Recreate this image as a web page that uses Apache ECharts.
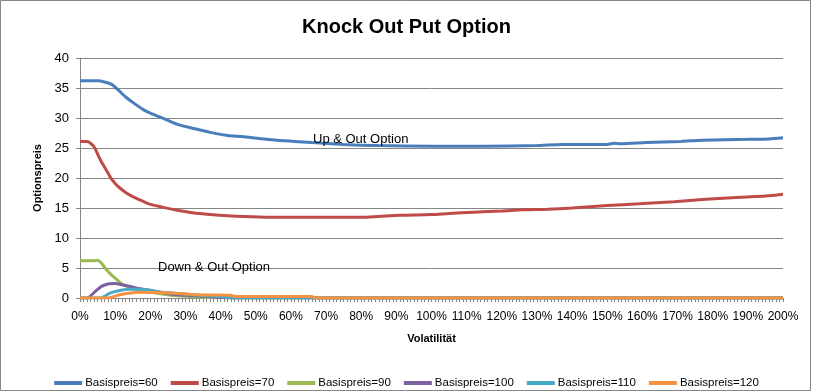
<!DOCTYPE html>
<html>
<head>
<meta charset="utf-8">
<script src="https://cdn.jsdelivr.net/npm/echarts@6/dist/echarts.min.js"></script>
<style>
html,body{margin:0;padding:0;background:#fff;}
#chart{width:813px;height:392px;}
</style>
</head>
<body>
<div id="chart"></div>
<script>
// Volatility (%) -> option price
const seriesNames = ['Basispreis=60','Basispreis=70','Basispreis=90','Basispreis=100','Basispreis=110','Basispreis=120'];
const basis60 = [[0,36.2],[5,36.2],[7,36.0],[9,35.6],[11,34.6],[13,33.5],[15,32.6],[18,31.4],[20,30.8],[23,30.1],[25,29.6],[28,28.9],[32,28.3],[37,27.6],[42,27.1],[46,26.9],[51,26.6],[56,26.3],[61,26.1],[66,25.9],[75,25.6],[85,25.4],[100,25.3],[115,25.3],[130,25.4],[137,25.6],[150,25.6],[152,25.8],[154,25.7],[161,25.9],[171,26.1],[177,26.3],[190,26.45],[196,26.5],[200,26.7]];
const basis70 = [[0,26.1],[2,26.1],[3,25.8],[4,25.2],[5,24.0],[6,22.8],[7,21.8],[8,20.8],[9,19.8],[10,19.1],[11,18.5],[13,17.6],[15,16.9],[18,16.1],[20,15.6],[23,15.2],[27,14.7],[32,14.2],[37,13.9],[42,13.7],[51,13.5],[60,13.45],[70,13.45],[80,13.45],[85,13.6],[91,13.8],[100,13.9],[105,14.1],[112,14.3],[120,14.5],[126,14.7],[133,14.8],[140,15.0],[150,15.4],[159,15.7],[169,16.05],[178,16.45],[188,16.8],[195,17.0],[200,17.3]];
const basis90 = [[0,6.2],[4,6.2],[5,6.3],[6,5.9],[7,5.1],[8,4.4],[9,3.8],[10,3.3],[11,2.8],[12,2.3],[14,1.8],[16,1.4],[18,1.15],[22,0.8],[27,0.4],[32,0.2],[36,0.1],[40,0.05],[45,0],[200,0]];
const basis100 = [[0,0],[2,0],[4,0.9],[6,1.9],[8,2.35],[10,2.4],[12,2.2],[14,1.95],[17.5,1.5],[22,1.05],[27,0.6],[32,0.4],[36,0.25],[40,0.1],[44,0],[200,0]];
const basis110 = [[0,0],[6,0],[7,0.3],[8.5,0.8],[11,1.2],[14,1.45],[17,1.45],[20,1.3],[22,1.05],[27,0.8],[32,0.55],[36,0.35],[40,0.2],[43,0.05],[45,0],[200,0]];
const basis120 = [[0,0],[8,0],[11,0.5],[14,0.8],[17,0.95],[22,0.9],[27,0.8],[32,0.6],[37,0.5],[43,0.45],[44,0.25],[66,0.25],[67,0],[200,0]];
const seriesData = [basis60, basis70, basis90, basis100, basis110, basis120];
const colors = ['#4A7EBB','#BE4B48','#98B954','#7D60A0','#46AAC5','#F69240'];

const FONT = '"Liberation Sans", Arial, sans-serif';
const chart = echarts.init(document.getElementById('chart'));
chart.setOption({
  animation: false,
  backgroundColor: '#fff',
  color: colors,
  title: {
    text: 'Knock Out Put Option',
    left: 'center', top: 12,
    textStyle: {fontFamily: FONT, fontSize: 20, fontWeight: 'bold', color: '#000'}
  },
  grid: {left: 80, right: 30, top: 58, bottom: 94},
  legend: {
    top: 372, left: 'center',
    icon: 'rect', itemWidth: 28, itemHeight: 4, itemGap: 13,
    textStyle: {fontFamily: FONT, fontSize: 11.5, color: '#000', padding: [0,0,0,-2]},
    data: seriesNames
  },
  xAxis: {
    type: 'value', min: 0, max: 200, interval: 10,
    name: 'Volatilität', nameLocation: 'middle', nameGap: 35,
    nameTextStyle: {fontFamily: FONT, fontSize: 11, fontWeight: 'bold', color: '#000'},
    axisLine: {lineStyle: {color: '#868686', width: 1}},
    axisTick: {show: true, length: 4, lineStyle: {color: '#868686'}},
    minorTick: {show: true, splitNumber: 10, length: 4, lineStyle: {color: '#868686'}},
    splitLine: {show: false},
    axisLabel: {formatter: '{value}%', margin: 13, fontFamily: FONT, fontSize: 12, color: '#000'}
  },
  yAxis: {
    type: 'value', min: 0, max: 40, interval: 5,
    name: 'Optionspreis', nameLocation: 'middle', nameGap: 32,
    nameTextStyle: {fontFamily: FONT, fontSize: 11, fontWeight: 'bold', color: '#000'},
    axisLine: {show: true, lineStyle: {color: '#868686', width: 1}},
    axisTick: {show: true, length: 4, lineStyle: {color: '#868686'}},
    splitLine: {show: true, lineStyle: {color: '#868686', width: 1}},
    axisLabel: {margin: 11, fontFamily: FONT, fontSize: 13, color: '#000'}
  },
  series: seriesNames.map((n, i) => ({
    name: n, type: 'line', data: seriesData[i],
    showSymbol: false, symbol: 'none', smooth: 0.25,
    lineStyle: {width: 3, color: colors[i]},
    itemStyle: {color: colors[i]}
  })),
  graphic: [
    {type: 'rect', shape: {x: 0.5, y: 0.5, width: 810, height: 390}, style: {fill: 'none', stroke: '#868686', lineWidth: 1}, z: 100},
    {type: 'text', left: 313, top: 133, style: {text: 'Up & Out Option', font: '13px ' + FONT, fill: '#000'}, z: 100},
    {type: 'text', left: 158, top: 261, style: {text: 'Down & Out Option', font: '13px ' + FONT, fill: '#000'}, z: 100}
  ]
});
</script>
</body>
</html>
